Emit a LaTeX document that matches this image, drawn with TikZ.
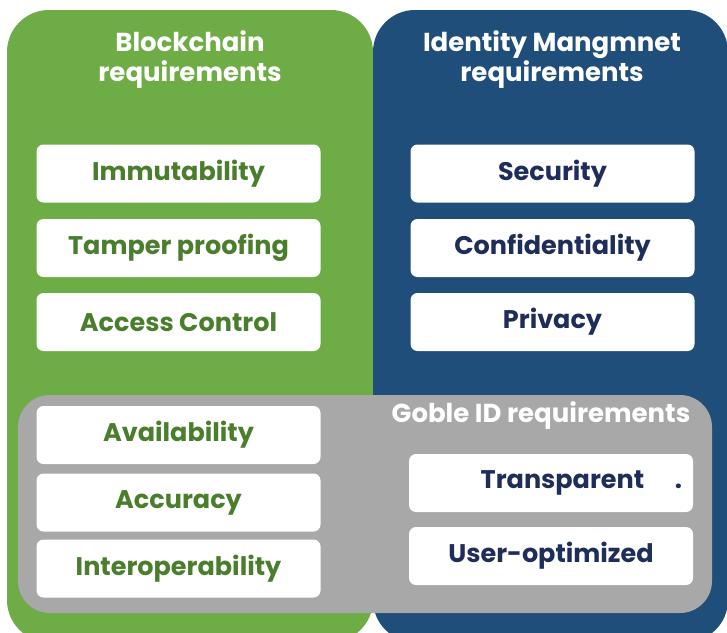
\documentclass[tikz,border=0pt]{standalone}
\usepackage{fontspec}
\setmainfont{Poppins}
\usepackage{xcolor}

\definecolor{chaingreen}{HTML}{6EAD46}
\definecolor{chaintext}{HTML}{4A7E2C}
\definecolor{idblue}{HTML}{1F4E7A}
\definecolor{idtext}{HTML}{1E2D5A}
\definecolor{gobgray}{HTML}{A8A8A8}

\tikzset{
  reqbox/.style={fill=white, rounded corners=7pt, minimum width=284pt, minimum height=58pt, inner sep=0pt, font=\fontsize{25.5}{27}\selectfont\bfseries},
  greenreq/.style={reqbox, text=chaintext},
  bluereq/.style={reqbox, text=idtext},
  title/.style={text=white, align=center, font=\fontsize{26}{30}\selectfont\bfseries}
}

\begin{document}
\begin{tikzpicture}[x=1pt,y=-1pt]
        \useasboundingbox (0,0) rectangle (727,632);
        \fill[white] (0,0) rectangle (727,632);
        \clip (0,0) rectangle (727,632);
        % the two big panels
        \fill[chaingreen, rounded corners=42pt] (7,10) rectangle (373,642);
        \fill[idblue, rounded corners=42pt] (373,10) rectangle (728,642);
        \node[title](chain) at (190,60) {Blockchain\\requirements};
        \node[title](ident) at (552,60) {Identity Mangmnet\\requirements};
        % upper boxes
        \node[greenreq](immut) at (178.5,173.5) {Immutability};
        \node[greenreq](tamper) at (178.5,248) {Tamper proofing};
        \node[greenreq](access) at (178.5,322) {Access Control};
        \node[bluereq](secur) at (552.5,173.5) {Security};
        \node[bluereq](confid) at (552.5,248) {Confidentiality};
        \node[bluereq](priv) at (552.5,322) {Privacy};
        % shared part
        \fill[gobgray, rounded corners=32pt] (18,395) rectangle (712,613);
        \node[title](goble) at (541,416) {Goble ID requirements};
        \node[greenreq](avail) at (178.5,435) {Availability};
        \node[greenreq](accur) at (178.5,502.5) {Accuracy};
        \node[greenreq](inter) at (178.5,568.5) {Interoperability};
        \node[bluereq, text width=262pt, align=right](transp) at (551,483) {Transparent\hspace{1.2em}.};
        \node[bluereq](useropt) at (551,556) {User-optimized};
\end{tikzpicture}
\end{document}
